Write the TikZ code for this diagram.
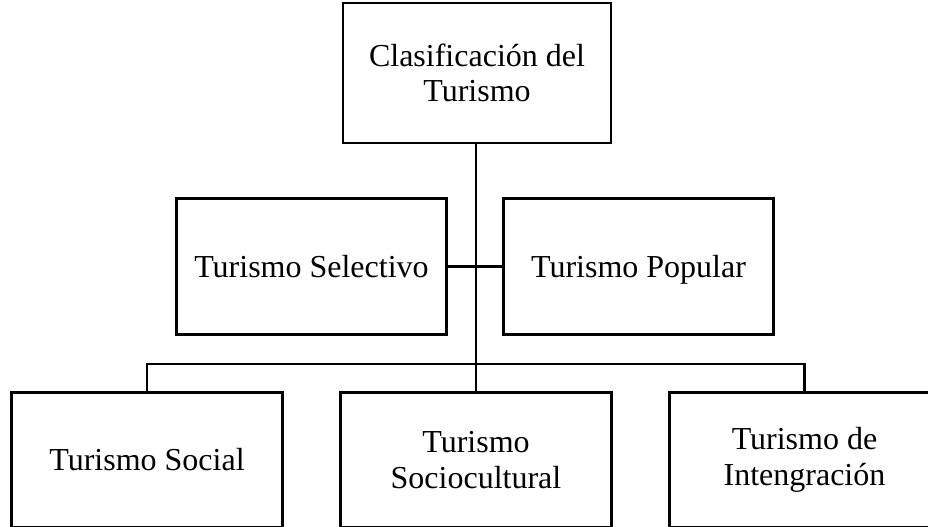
\documentclass[tikz,border=0pt]{standalone}
\usepackage{fontspec}
\setmainfont{Liberation Serif}
\begin{document}
\begin{tikzpicture}[x=0.75pt, y=-0.75pt, line width=2.2pt,
  box/.style={rectangle, draw, align=center, minimum width=203pt, minimum height=101.5pt, inner sep=0pt,
    font=\fontsize{24}{26.5}\selectfont},
  oneline/.style={text height=19pt, text depth=3pt}]

\useasboundingbox (0,0) rectangle (928,527);

% Top
\node[box, minimum height=105pt, minimum width=201pt] (clas) at (477,73) {Clasificación del\\Turismo};

% Middle level
\node[box, oneline] (sel) at (311.5,266.5) {Turismo Selectivo};
\node[box, oneline] (pop) at (638.5,266.5) {Turismo Popular};

% Bottom level
\node[box, oneline] (soc) at (147,460) {Turismo Social};
\node[box] (scu) at (476,460) {Turismo\\Sociocultural};
\node[box] (int) at (804.5,460) {Turismo de\\Intengración};

% Connections
\coordinate (bar) at (476,364);
\draw (clas.south -| bar) -- (scu.north -| bar);
\draw (sel.east) -- (pop.west);
\draw (soc.north) |- (bar) -| (int.north);

\end{tikzpicture}
\end{document}
